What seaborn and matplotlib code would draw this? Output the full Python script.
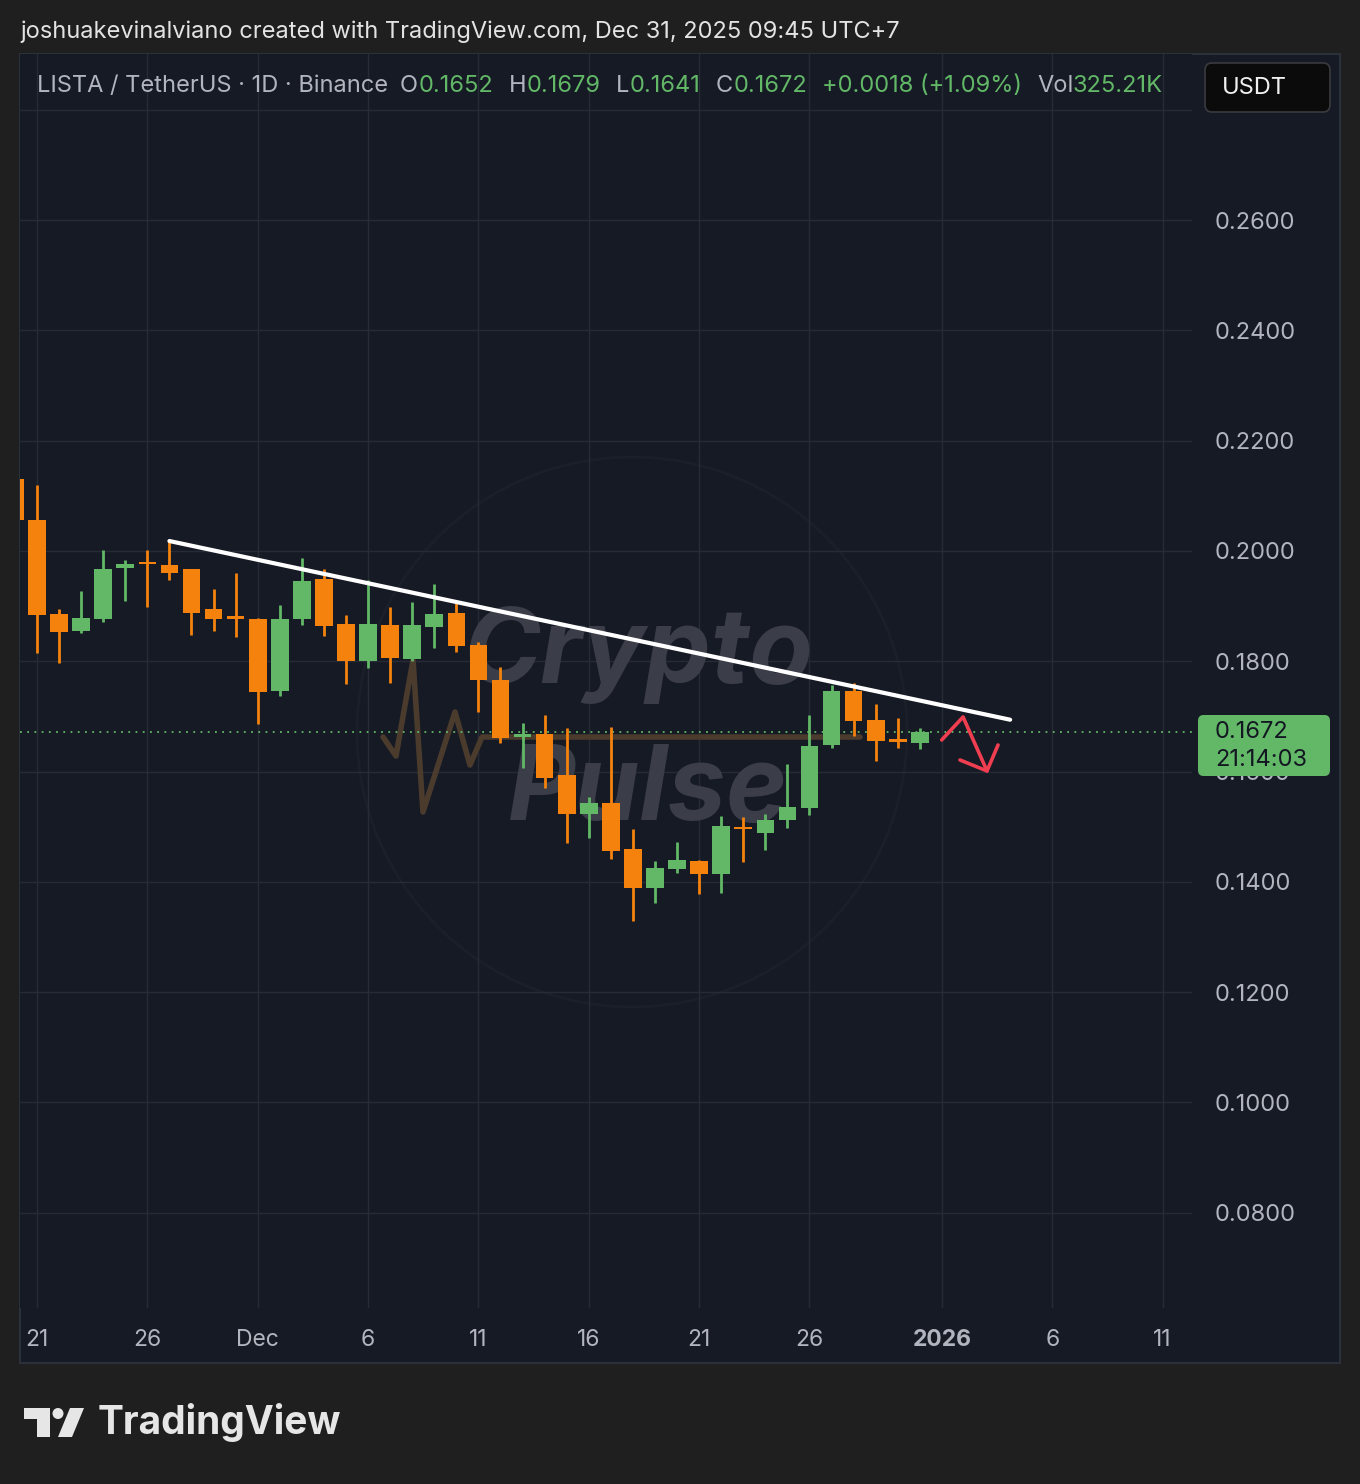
import numpy as np
import pandas as pd
import matplotlib
matplotlib.use("Agg")
import matplotlib.pyplot as plt
import matplotlib.dates as mdates
from matplotlib.patches import Rectangle, FancyBboxPatch, Ellipse, Polygon
from matplotlib.lines import Line2D
import seaborn as sns

# ---------------- data ----------------
dates = pd.date_range("2025-11-20", "2025-12-31", freq="D")
opens = [0.2131, 0.2056, 0.1886, 0.1855, 0.1877, 0.1969, 0.1980, 0.1975, 0.1967, 0.1895, 0.1880,
         0.1877, 0.1746, 0.1877, 0.1949, 0.1868, 0.1800, 0.1866, 0.1804, 0.1862, 0.1888,
         0.1830, 0.1766, 0.1663, 0.1668, 0.1594, 0.1523, 0.1543, 0.1460, 0.1389, 0.1423,
         0.1438, 0.1414, 0.1500, 0.1489, 0.1512, 0.1534, 0.1648, 0.1746, 0.1694, 0.1659, 0.1652]
highs = [0.2135, 0.2120, 0.1895, 0.1927, 0.2002, 0.1984, 0.2002, 0.2020, 0.1968, 0.1931, 0.1960,
         0.1878, 0.1902, 0.1987, 0.1967, 0.1884, 0.1947, 0.1898, 0.1908, 0.1940, 0.1909,
         0.1835, 0.1790, 0.1688, 0.1703, 0.1679, 0.1554, 0.1681, 0.1496, 0.1438, 0.1472,
         0.1440, 0.1519, 0.1518, 0.1523, 0.1614, 0.1703, 0.1757, 0.1761, 0.1723, 0.1697, 0.1679]
lows = [0.2050, 0.1815, 0.1797, 0.1851, 0.1871, 0.1909, 0.1898, 0.1947, 0.1848, 0.1855, 0.1844,
        0.1686, 0.1737, 0.1866, 0.1846, 0.1759, 0.1788, 0.1761, 0.1800, 0.1824, 0.1817,
        0.1708, 0.1652, 0.1607, 0.1570, 0.1470, 0.1480, 0.1442, 0.1329, 0.1362, 0.1416,
        0.1378, 0.1380, 0.1436, 0.1458, 0.1498, 0.1521, 0.1643, 0.1665, 0.1619, 0.1643, 0.1641]
closes = [0.2056, 0.1884, 0.1853, 0.1879, 0.1967, 0.1976, 0.1976, 0.1960, 0.1888, 0.1877, 0.1877,
          0.1744, 0.1877, 0.1946, 0.1864, 0.1800, 0.1868, 0.1806, 0.1866, 0.1886, 0.1828,
          0.1766, 0.1661, 0.1668, 0.1588, 0.1523, 0.1543, 0.1456, 0.1389, 0.1425, 0.1440,
          0.1414, 0.1501, 0.1495, 0.1512, 0.1536, 0.1646, 0.1746, 0.1692, 0.1655, 0.1654, 0.1672]
volume_label = "325.21K"

trend_dates = pd.to_datetime(["2025-11-27 00:00", "2026-01-04 02:10"])
trend_prices = [0.2018, 0.1694]
arrow_dates = pd.to_datetime(["2025-12-31 23:45", "2026-01-01 23:00", "2026-01-03 01:00"])
arrow_prices = [0.16573, 0.16990, 0.16011]
arrowhead_dates = pd.to_datetime(["2026-01-01 19:40", "2026-01-03 01:00", "2026-01-03 13:00"])
arrowhead_prices = [0.16210, 0.16011, 0.16482]

xtick_dates = pd.to_datetime(["2025-11-21", "2025-11-26", "2025-12-01", "2025-12-06", "2025-12-11",
                              "2025-12-16", "2025-12-21", "2025-12-26", "2026-01-01", "2026-01-06",
                              "2026-01-11"])
xtick_labels = ["21", "26", "Dec", "6", "11", "16", "21", "26", "2026", "6", "11"]
yticks = [0.08, 0.10, 0.12, 0.14, 0.16, 0.18, 0.20, 0.22, 0.24, 0.26, 0.28]
ytick_labels = ["0.0800", "0.1000", "0.1200", "0.1400", "0.1600", "0.1800", "0.2000",
                "0.2200", "0.2400", "0.2600", ""]

# ---------------- style ----------------
sns.set_theme(style="dark")
plt.rcParams["font.family"] = ["Inter", "DejaVu Sans"]

W, H = 1360, 1484
BG_OUT = "#1f1f1f"
BG = "#161a25"
GRID = "#272b36"
TXT = "#b2b5be"
GREEN = "#62b867"
ORANGE = "#f5820d"


def fx(x):
    return x / W


def fy(y):
    return 1 - y / H


fig = plt.figure(figsize=(W / 100, H / 100), dpi=100)
fig.patch.set_facecolor(BG_OUT)
fig.add_artist(Rectangle((fx(20), fy(1363)), 1320 / W, (1363 - 54) / H, transform=fig.transFigure,
                         facecolor=BG, edgecolor="#2c303b", lw=1.5, zorder=-5))

ax = fig.add_axes([fx(20), fy(1308), 1172 / W, 1254 / H])
ax.set_facecolor(BG)
for s in ax.spines.values():
    s.set_visible(False)

x = mdates.date2num(dates)
o = np.array(opens); c = np.array(closes); hi = np.array(highs); lo = np.array(lows)
up = c >= o
cols = np.where(up, GREEN, ORANGE)
body_bottom = np.minimum(o, c)
body_h = np.maximum(np.abs(c - o), 0.00045)

# watermark (behind candles)
ax.add_artist(Ellipse((fx(632), fy(732)), 550 / W, 550 / H, transform=fig.transFigure,
                      facecolor="none", edgecolor="#1b1f2a", lw=2, zorder=0.5, clip_on=False))
ax.text(fx(638), fy(655), "Crypto", transform=fig.transFigure, ha="center", va="center",
        fontsize=75, fontweight="bold", fontstyle="italic", color="#3b3e48", zorder=1)
ax.text(fx(648), fy(792), "Pulse", transform=fig.transFigure, ha="center", va="center",
        fontsize=75, fontweight="bold", fontstyle="italic", color="#3b3e48", zorder=1)
hb_x = [383, 396, 413, 423, 455, 470, 482, 860]
hb_y = [737, 756, 660, 812, 712, 765, 737, 737]
ax.add_artist(Line2D([fx(v) for v in hb_x], [fy(v) for v in hb_y], transform=fig.transFigure,
                     color="#4a3b2c", lw=4, zorder=1.2))

# candles
ax.vlines(x, lo, hi, colors=cols, lw=2, zorder=3)
ax.bar(x, body_h, bottom=body_bottom, width=0.8, color=cols, edgecolor="none", zorder=4)

# current price line
ax.axhline(closes[-1], color=GREEN, ls=(0, (1, 3)), lw=1.3, zorder=2)

# trendline and arrow
sns.lineplot(x=mdates.date2num(trend_dates), y=trend_prices, ax=ax, color="white", lw=3,
             solid_capstyle="round", zorder=6)
sns.lineplot(x=mdates.date2num(arrow_dates), y=arrow_prices, ax=ax, color="#ef3e50", lw=2.6,
             sort=False, zorder=6)
sns.lineplot(x=mdates.date2num(arrowhead_dates), y=arrowhead_prices, ax=ax, color="#ef3e50", lw=2.6,
             sort=False, zorder=6)

x0 = mdates.date2num(pd.Timestamp("2025-11-21"))
ax.set_xlim(x0 - 0.77, x0 + 52.33)
ax.set_ylim(0.06274, 0.2901)

ax.set_xticks(mdates.date2num(xtick_dates))
ax.set_xticklabels(xtick_labels)
ax.yaxis.tick_right()
ax.set_yticks(yticks)
ax.set_yticklabels(ytick_labels)
ax.tick_params(axis="x", length=0, pad=15, labelsize=16.5, labelcolor=TXT)
ax.tick_params(axis="y", length=0, pad=16, labelsize=17, labelcolor=TXT)
for lbl in ax.get_xticklabels():
    if lbl.get_text() == "2026":
        lbl.set_fontweight("bold")
ax.grid(True, color=GRID, lw=1)
ax.set_xlabel(""); ax.set_ylabel("")

# ---------------- header texts ----------------
fig.text(fx(20), fy(32), "joshuakevinalviano created with TradingView.com, Dec 31, 2025 09:45 UTC+7",
         ha="left", va="center", fontsize=17, color="#e3e3e3")
ry = fy(86)
fig.text(fx(37), ry, "LISTA / TetherUS · 1D · Binance", ha="left", va="center", fontsize=17, color=TXT)
chg = closes[-1] - closes[-2]
pieces = [(400, "O", TXT), (419, f"{opens[-1]:.4f}", GREEN),
          (509, "H", TXT), (527, f"{highs[-1]:.4f}", GREEN),
          (616, "L", TXT), (630, f"{lows[-1]:.4f}", GREEN),
          (716, "C", TXT), (734, f"{closes[-1]:.4f}", GREEN),
          (822, f"{chg:+.4f} ({chg / closes[-2] * 100:+.2f}%)", GREEN),
          (1037, "Vol", TXT), (1073, volume_label, GREEN)]
for px, s, col in pieces:
    fig.text(fx(px), ry, s, ha="left", va="center", fontsize=17, color=col)

fig.add_artist(FancyBboxPatch((fx(1205), fy(112)), 125 / W, 49 / H, boxstyle="round,pad=0,rounding_size=0.005",
                              transform=fig.transFigure, facecolor="#0b0b0c", edgecolor="#3a3b3f", lw=1.2, zorder=5))
fig.text(fx(1222), fy(88), "USDT", ha="left", va="center", fontsize=17, color="#f0f0f0", zorder=6)

# price label box (covers part of the 0.1600 axis label, as in the original)
fig.add_artist(FancyBboxPatch((fx(1198), fy(776)), 132 / W, 61 / H, boxstyle="round,pad=0,rounding_size=0.004",
                              transform=fig.transFigure, facecolor=GREEN, edgecolor="none", zorder=5))
fig.text(fx(1215), fy(732), f"{closes[-1]:.4f}", ha="left", va="center", fontsize=17, color="#131722", zorder=6)
fig.text(fx(1215), fy(760), "21:14:03", ha="left", va="center", fontsize=17, color="#131722", zorder=6)

# ---------------- TradingView logo ----------------
LOGO = "#e6e6e6"
fig.add_artist(Polygon([(fx(24), fy(1408)), (fx(50), fy(1408)), (fx(50), fy(1437)), (fx(37), fy(1437)),
                        (fx(37), fy(1419)), (fx(24), fy(1419))], closed=True, transform=fig.transFigure,
                       facecolor=LOGO, edgecolor="none"))
fig.add_artist(Ellipse((fx(58), fy(1413.5)), 11 / W, 11 / H, transform=fig.transFigure,
                       facecolor=LOGO, edgecolor="none"))
fig.add_artist(Polygon([(fx(70), fy(1408)), (fx(84), fy(1408)), (fx(72), fy(1437)), (fx(58), fy(1437))],
                       closed=True, transform=fig.transFigure, facecolor=LOGO, edgecolor="none"))
fig.text(fx(98), fy(1423), "TradingView", ha="left", va="center", fontsize=28, fontweight="bold",
         color=LOGO)

fig.savefig("out.png", dpi=100, facecolor=BG_OUT)
